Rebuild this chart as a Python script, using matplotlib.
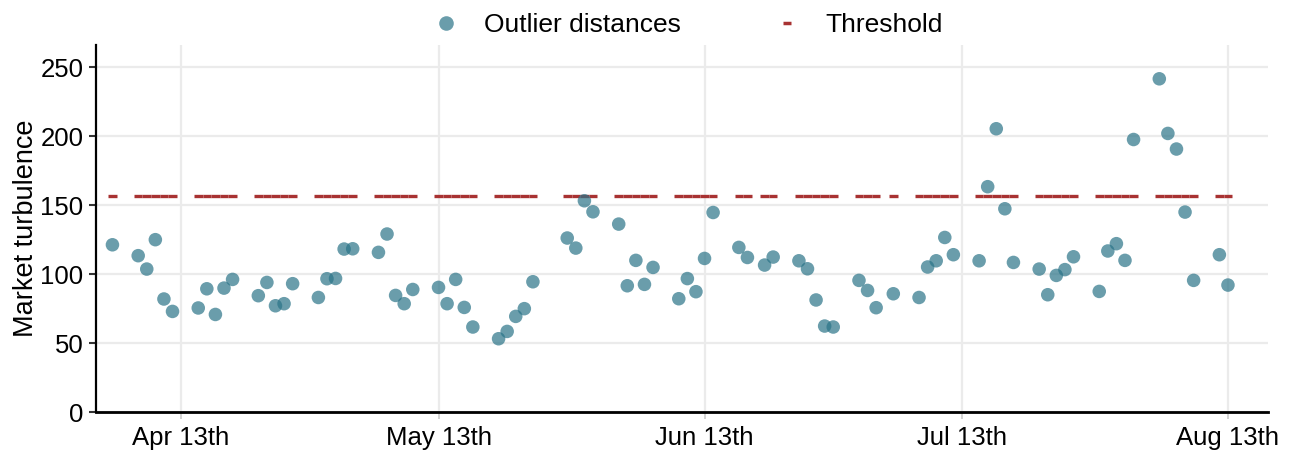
import numpy as np
import pandas as pd
import matplotlib
matplotlib.use('Agg')
import matplotlib.pyplot as plt
import matplotlib.dates as mdates
from matplotlib.lines import Line2D

plt.rcParams['font.family'] = ['Liberation Sans', 'DejaVu Sans']

# trading days (NYSE 2024, holidays removed)
holidays = ['2024-05-27', '2024-06-19', '2024-07-04']
dates = pd.bdate_range('2024-04-05', '2024-08-13', freq='C', holidays=holidays)

turbulence = [
    121.2,
    113.3, 103.6, 124.9, 81.9, 72.9,
    75.4, 89.3, 70.7, 89.8, 96.1,
    84.3, 93.9, 77.0, 78.5, 93.0,
    83.0, 96.6, 96.8, 118.1, 118.3,
    115.7, 129.0, 84.5, 78.5, 88.8,
    90.3, 78.5, 96.1, 75.8, 61.6,
    53.1, 58.4, 69.3, 74.9, 94.4,
    126.1, 118.8, 153.1, 145.1,
    136.2, 91.5, 109.9, 92.5, 104.8,
    82.1, 96.7, 87.2, 111.3, 144.6,
    119.3, 112.0, 106.5, 112.3,
    109.6, 103.8, 81.2, 62.3, 61.6,
    95.4, 88.1, 75.6, 85.7,
    83.0, 105.1, 109.6, 126.5, 114.0,
    109.6, 163.3, 205.3, 147.3, 108.4,
    103.6, 85.0, 99.0, 103.2, 112.5,
    87.4, 116.7, 122.0, 109.9, 197.5,
    241.5, 201.9, 190.6, 144.9, 95.4,
    114.0, 92.0,
]
threshold = 156.7

tick_dates = ['2024-04-13', '2024-05-13', '2024-06-13', '2024-07-13', '2024-08-13']
tick_labels = ['Apr 13th', 'May 13th', 'Jun 13th', 'Jul 13th', 'Aug 13th']

point_col = '#2b7488'
line_col = '#a83232'

fig = plt.figure(figsize=(12.91, 4.53), dpi=100)
ax = fig.add_axes([96 / 1291, 1 - 412 / 453, (1268 - 96) / 1291, (412 - 45) / 453])

x = mdates.date2num(dates)
ax.hlines(np.full(len(x), threshold), x - 0.5, x + 0.5, color=line_col, lw=2.4, zorder=2)
ax.scatter(x, turbulence, s=95, color=point_col, alpha=0.7, edgecolors='none', zorder=3)

ax.set_xlim(mdates.date2num(pd.Timestamp('2024-04-03 02:00')),
            mdates.date2num(pd.Timestamp('2024-08-17 16:00')))
ax.set_ylim(0, 266)
ax.set_xticks(mdates.date2num(pd.to_datetime(tick_dates)))
ax.set_xticklabels(tick_labels)
ax.set_yticks([0, 50, 100, 150, 200, 250])

ax.grid(True, color='#ebebeb', lw=1.6)
ax.set_axisbelow(True)
for s in ['top', 'right']:
    ax.spines[s].set_visible(False)
ax.spines['left'].set_linewidth(1.6)
ax.spines['bottom'].set_linewidth(2.0)
ax.tick_params(axis='y', labelsize=18.5, length=5, width=1.5, color='#333333', pad=4, labelcolor='black')
ax.tick_params(axis='x', labelsize=18.5, length=5, width=1.2, color='#cccccc', pad=5, labelcolor='black')
ax.set_ylabel('Market turbulence', fontsize=19.5, labelpad=1)

handles = [
    Line2D([], [], marker='o', color=point_col, alpha=0.7, linestyle='none', markersize=10.5, markeredgewidth=0),
    Line2D([], [], marker='_', color=line_col, linestyle='none', markersize=6, markeredgewidth=2.5),
]
fig.legend(handles, ['Outlier distances', 'Threshold'], loc='center', bbox_to_anchor=(0.5275, 1 - 25 / 453),
           ncol=2, frameon=False, fontsize=19, columnspacing=3.0, handletextpad=0.45)

fig.savefig('out.png', dpi=100)
